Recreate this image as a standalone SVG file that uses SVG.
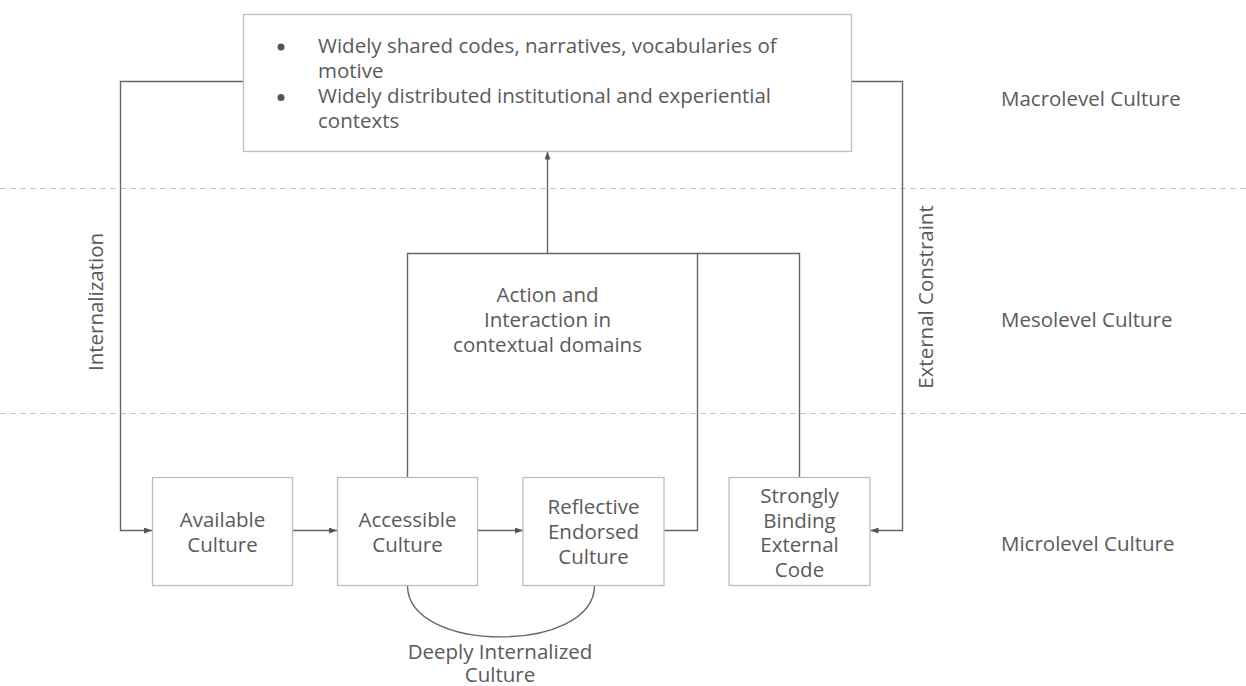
<svg xmlns="http://www.w3.org/2000/svg" width="1246" height="686" viewBox="0 0 1246 686">
<style>
text{font-family:"Open Sans","Noto Sans","Liberation Sans",sans-serif;font-size:20.5px;fill:#5a5a5a}
.c{text-anchor:middle}
.box{fill:#fff;stroke:#bdbdbd;stroke-width:1.3}
.ln{fill:none;stroke:#666;stroke-width:1.4}
.dash{stroke:#c4c4c4;stroke-width:1.2;stroke-dasharray:6 4}
</style>
<defs>
<marker id="ah" viewBox="0 0 8 6" refX="8" refY="3" markerWidth="8" markerHeight="6" markerUnits="userSpaceOnUse" orient="auto">
<path d="M0,0 L8,3 L0,6 z" fill="#555"/>
</marker>
</defs>
<rect width="1246" height="686" fill="#fff"/>
<g id="levels">
<line class="dash" x1="0" y1="188.5" x2="1246" y2="188.5"/>
<line class="dash" x1="0" y1="413.5" x2="1246" y2="413.5"/>
<text x="1001" y="106">Macrolevel Culture</text>
<text x="1001" y="327">Mesolevel Culture</text>
<text x="1001" y="551">Microlevel Culture</text>
</g>
<g id="connectors">
<path class="ln" d="M243.5,81.5 H120.5 V530.5 H152" marker-end="url(#ah)"/>
<path class="ln" d="M851.5,81.5 H902.5 V530.5 H870.5" marker-end="url(#ah)"/>
<path class="ln" d="M292.5,530.5 H337" marker-end="url(#ah)"/>
<path class="ln" d="M477.5,530.5 H523" marker-end="url(#ah)"/>
<path class="ln" d="M407.5,477.5 V253.5 H547.5 V151.5" marker-end="url(#ah)"/>
<path class="ln" d="M663.5,530.5 H697.5 V253.5 H547.5"/>
<path class="ln" d="M799.5,477.5 V253.5 H697.5"/>
<path class="ln" d="M407.5,585.5 C407.5,654 594.5,654 594.5,585.5" stroke-width="1.1"/>
<text class="c" transform="translate(103,302) rotate(-90)">Internalization</text>
<text class="c" transform="translate(933,297) rotate(-90)">External Constraint</text>
<text class="c" x="547.5" y="302">Action and</text>
<text class="c" x="547.5" y="327">Interaction in</text>
<text class="c" x="547.5" y="352">contextual domains</text>
<text class="c" x="500" y="659">Deeply Internalized</text>
<text class="c" x="500" y="682">Culture</text>
</g>
<g id="macro">
<rect class="box" x="243.5" y="14.5" width="608" height="137"/>
<circle cx="281" cy="47" r="3.5" fill="#555"/>
<circle cx="281" cy="97.5" r="3.5" fill="#555"/>
<text x="318" y="53">Widely shared codes, narratives, vocabularies of</text>
<text x="318" y="78">motive</text>
<text x="318" y="103">Widely distributed institutional and experiential</text>
<text x="318" y="128">contexts</text>
</g>
<g id="available">
<rect class="box" x="152.5" y="477.5" width="140" height="108"/>
<text class="c" x="222.5" y="527">Available</text>
<text class="c" x="222.5" y="552">Culture</text>
</g>
<g id="accessible">
<rect class="box" x="337.5" y="477.5" width="140" height="108"/>
<text class="c" x="407.5" y="527">Accessible</text>
<text class="c" x="407.5" y="552">Culture</text>
</g>
<g id="reflective">
<rect class="box" x="523" y="477.5" width="141" height="108"/>
<text class="c" x="593.5" y="514">Reflective</text>
<text class="c" x="593.5" y="539">Endorsed</text>
<text class="c" x="593.5" y="564">Culture</text>
</g>
<g id="binding">
<rect class="box" x="729" y="477.5" width="141" height="108"/>
<text class="c" x="799.5" y="503">Strongly</text>
<text class="c" x="799.5" y="528">Binding</text>
<text class="c" x="799.5" y="552">External</text>
<text class="c" x="799.5" y="577">Code</text>
</g>
</svg>
